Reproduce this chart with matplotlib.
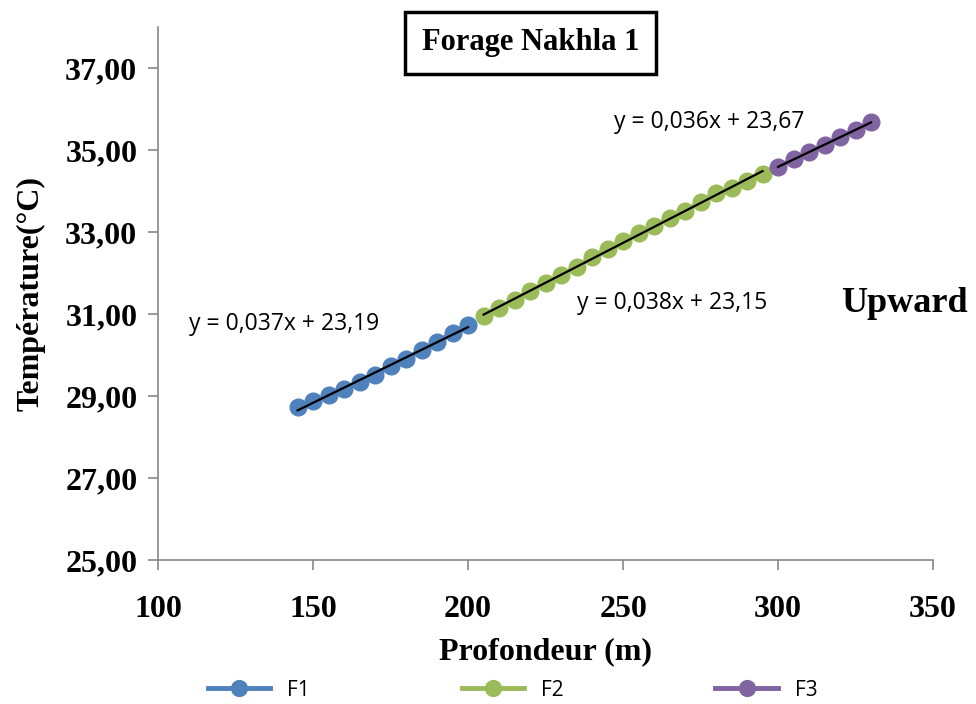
import numpy as np
import matplotlib
matplotlib.use("Agg")
import matplotlib.pyplot as plt
from matplotlib.ticker import FuncFormatter, MultipleLocator

# depths (m) and temperatures (degC)
depth_f1 = [145, 150, 155, 160, 165, 170, 175, 180, 185, 190, 195, 200]
temp_f1 = [28.73, 28.88, 29.02, 29.16, 29.35, 29.51, 29.73, 29.90, 30.12, 30.32, 30.54, 30.74]

depth_f2 = [205, 210, 215, 220, 225, 230, 235, 240, 245, 250, 255, 260, 265, 270,
            275, 280, 285, 290, 295]
temp_f2 = [30.95, 31.15, 31.34, 31.56, 31.76, 31.95, 32.15, 32.39, 32.59, 32.78,
           32.98, 33.15, 33.34, 33.51, 33.73, 33.95, 34.07, 34.24, 34.41]

depth_f3 = [300, 305, 310, 315, 320, 325, 330]
temp_f3 = [34.59, 34.78, 34.95, 35.12, 35.32, 35.49, 35.68]

series_names = ['F1', 'F2', 'F3']
series_colors = ['#4F81BD', '#9BBB59', '#8064A2']
trend_labels = ['y = 0,037x + 23,19', 'y = 0,038x + 23,15', 'y = 0,036x + 23,67']

serif = ['Liberation Serif', 'DejaVu Serif']
sans = ['Open Sans', 'Liberation Sans', 'DejaVu Sans']

fig = plt.figure(figsize=(9.76, 7.04), dpi=100)
ax = fig.add_axes([0.162, 0.2045, 0.794, 0.757])

data = [(depth_f1, temp_f1), (depth_f2, temp_f2), (depth_f3, temp_f3)]
for (x, y), name, col in zip(data, series_names, series_colors):
    ax.plot(x, y, '-o', color=col, lw=3.5, markersize=12, label=name, zorder=2)
    # linear trend line
    a, b = np.polyfit(x, y, 1)
    xs = np.array([x[0], x[-1]])
    ax.plot(xs, a * xs + b, color='black', lw=1.6, zorder=3)

# trendline equations
ax.text(110, 30.75, trend_labels[0], fontsize=16.5, family=sans, va='center')
ax.text(235, 31.27, trend_labels[1], fontsize=16.5, family=sans, va='center')
ax.text(247, 35.68, trend_labels[2], fontsize=16.5, family=sans, va='center')

ax.set_xlim(100, 350)
ax.set_ylim(25, 38)
ax.xaxis.set_major_locator(MultipleLocator(50))
ax.set_yticks(np.arange(25, 38, 2))
ax.yaxis.set_major_formatter(FuncFormatter(lambda v, p: f"{v:.2f}".replace('.', ',')))

for side in ['top', 'right']:
    ax.spines[side].set_visible(False)
for side in ['left', 'bottom']:
    ax.spines[side].set_color('#888888')
    ax.spines[side].set_linewidth(1.2)
ax.tick_params(direction='out', length=7, width=1.2, color='#888888', pad=8)
for lab in ax.get_xticklabels() + ax.get_yticklabels():
    lab.set_family(serif)
    lab.set_fontweight('bold')
    lab.set_fontsize(23)
ax.tick_params(axis='x', pad=18)

ax.set_xlabel('Profondeur (m)', family=serif, fontweight='bold', fontsize=23, labelpad=10)
ax.set_ylabel('Température(°C)', family=serif, fontweight='bold', fontsize=23, labelpad=14)

fig.text(0.544, 0.939, 'Forage Nakhla 1', family=serif, fontweight='bold', fontsize=22,
         ha='center', va='center',
         bbox=dict(boxstyle='square,pad=0.55', fc='white', ec='black', lw=2.5))
fig.text(0.862, 0.569, 'Upward', family=serif, fontweight='bold', fontsize=26,
         ha='left', va='center')

leg = fig.legend(loc='lower center', ncol=3, frameon=False, bbox_to_anchor=(0.525, -0.022),
                 columnspacing=7.3, handlelength=3.0, markerscale=0.95,
                 prop={'family': sans, 'size': 15})

fig.savefig('out.png', dpi=100)
